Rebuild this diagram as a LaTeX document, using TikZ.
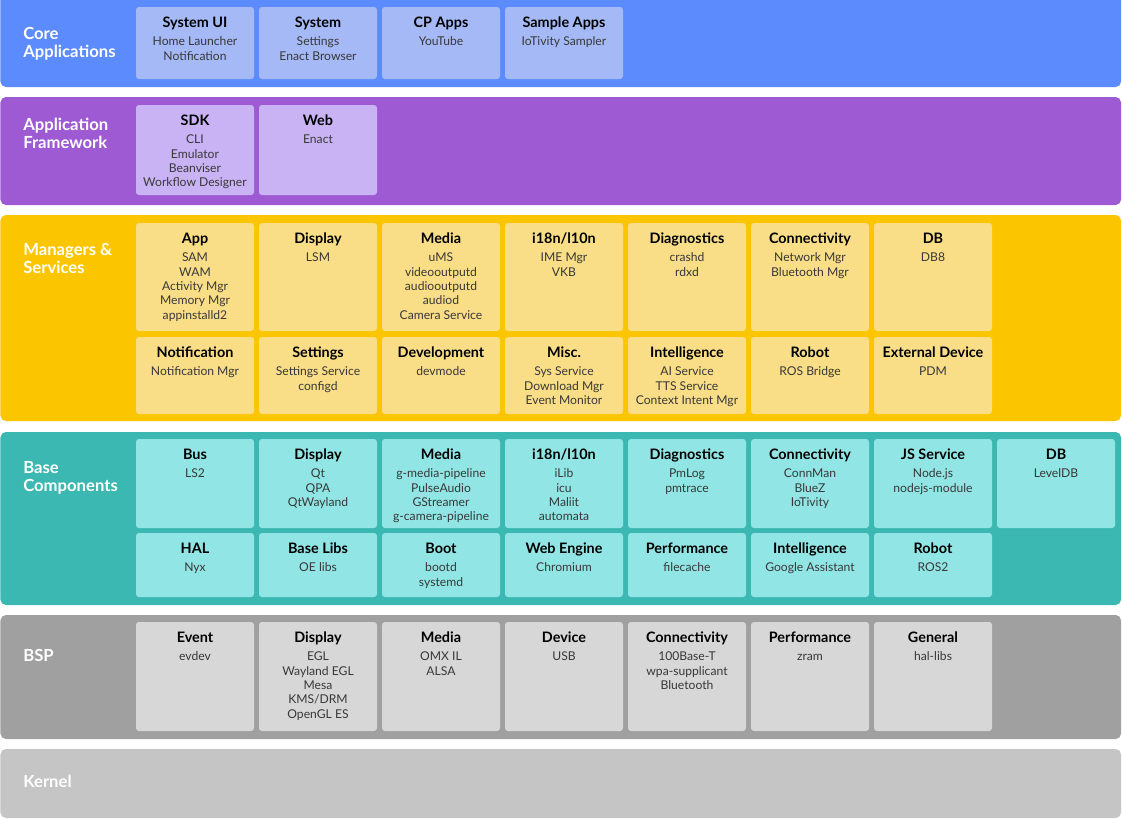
\documentclass[tikz,border=0pt]{standalone}
\usepackage{fontspec}
\setmainfont{Lato}
\definecolor{coreL}{HTML}{5B8BFD}
\definecolor{coreB}{HTML}{A4B9F6}
\definecolor{fwL}{HTML}{9D5AD2}
\definecolor{fwB}{HTML}{C9B3F5}
\definecolor{mgL}{HTML}{FBC500}
\definecolor{mgB}{HTML}{F9DE87}
\definecolor{bcL}{HTML}{3BB8B2}
\definecolor{bcB}{HTML}{92E5E5}
\definecolor{bspL}{HTML}{A0A0A0}
\definecolor{bspB}{HTML}{D7D7D7}
\definecolor{krL}{HTML}{C5C5C5}
\definecolor{itemc}{HTML}{383838}
\newcommand\hd[1]{{\fontsize{10.8}{10.8}\selectfont\bfseries\color{black}#1}}
\newcommand\lb[1]{\begin{tabular}[t]{@{}l@{}}#1\end{tabular}}
\tikzset{
  layerst/.style={rounded corners=4pt},
  boxst/.style={rounded corners=2.2pt, inner sep=0pt, outer sep=0pt, minimum width=88.5pt, anchor=north west},
  txt/.style={inner sep=0pt, outer sep=0pt, anchor=base, text=itemc, font=\fontsize{9.1}{10.75}\selectfont},
  lbl/.style={inner sep=0pt, anchor=base west, text=white, font=\fontsize{12.5}{13.8}\selectfont\bfseries}
}
\newcommand\cbox[7]{%
  \node[boxst, fill=#5, minimum height={#4*0.75pt}] (#1) at ({136+123*#2}, #3) {};
  \node[txt] (#1t) at ({195+123*#2}, {#3+20}) {\begin{tabular}[t]{@{}c@{}}\hd{#6}\\[3.3pt] #7\end{tabular}};
}
\begin{document}
\begin{tikzpicture}[x=0.75pt,y=-0.75pt]
\useasboundingbox (0,0) rectangle (1122,819);
% layers
\fill[coreL, layerst] (0.5,-10) rectangle (1121,87);
\fill[fwL, layerst] (0.5,97) rectangle (1121,205);
\fill[mgL, layerst] (0.5,215) rectangle (1121,421);
\fill[bcL, layerst] (0.5,432) rectangle (1121,605);
\fill[bspL, layerst] (0.5,615) rectangle (1121,739);
\fill[krL, layerst] (0.5,749) rectangle (1121,818);
% labels
\node[lbl] (lcore) at (23,39) {\lb{Core\\Applications}};
\node[lbl] (lfw) at (23,130.5) {\lb{Application\\Framework}};
\node[lbl] (lmg) at (23,255.5) {\lb{Managers \&\\Services}};
\node[lbl] (lbc) at (23,473.5) {\lb{Base\\Components}};
\node[lbl] (lbsp) at (23,661.5) {BSP};
\node[lbl] (lkr) at (23,787.5) {Kernel};
% core
\cbox{c0}{0}{7}{72}{coreB}{System UI}{Home Launcher\\Notification}
\cbox{c1}{1}{7}{72}{coreB}{System}{Settings\\Enact Browser}
\cbox{c2}{2}{7}{72}{coreB}{CP Apps}{YouTube}
\cbox{c3}{3}{7}{72}{coreB}{Sample Apps}{IoTivity Sampler}
% framework
\cbox{f0}{0}{105}{90}{fwB}{SDK}{CLI\\Emulator\\Beanviser\\Workflow Designer}
\cbox{f1}{1}{105}{90}{fwB}{Web}{Enact}
% managers row 1
\cbox{m0}{0}{223}{108}{mgB}{App}{SAM\\WAM\\Activity Mgr\\Memory Mgr\\appinstalld2}
\cbox{m1}{1}{223}{108}{mgB}{Display}{LSM}
\cbox{m2}{2}{223}{108}{mgB}{Media}{uMS\\videooutputd\\audiooutputd\\audiod\\Camera Service}
\cbox{m3}{3}{223}{108}{mgB}{i18n/l10n}{IME Mgr\\VKB}
\cbox{m4}{4}{223}{108}{mgB}{Diagnostics}{crashd\\rdxd}
\cbox{m5}{5}{223}{108}{mgB}{Connectivity}{Network Mgr\\Bluetooth Mgr}
\cbox{m6}{6}{223}{108}{mgB}{DB}{DB8}
% managers row 2
\cbox{n0}{0}{337}{77}{mgB}{Notification}{Notification Mgr}
\cbox{n1}{1}{337}{77}{mgB}{Settings}{Settings Service\\configd}
\cbox{n2}{2}{337}{77}{mgB}{Development}{devmode}
\cbox{n3}{3}{337}{77}{mgB}{Misc.}{Sys Service\\Download Mgr\\Event Monitor}
\cbox{n4}{4}{337}{77}{mgB}{Intelligence}{AI Service\\TTS Service\\Context Intent Mgr}
\cbox{n5}{5}{337}{77}{mgB}{Robot}{ROS Bridge}
\cbox{n6}{6}{337}{77}{mgB}{External Device}{PDM}
% base row 1
\cbox{b0}{0}{439}{89}{bcB}{Bus}{LS2}
\cbox{b1}{1}{439}{89}{bcB}{Display}{Qt\\QPA\\QtWayland}
\cbox{b2}{2}{439}{89}{bcB}{Media}{g-media-pipeline\\PulseAudio\\GStreamer\\g-camera-pipeline}
\cbox{b3}{3}{439}{89}{bcB}{i18n/l10n}{iLib\\icu\\Maliit\\automata}
\cbox{b4}{4}{439}{89}{bcB}{Diagnostics}{PmLog\\pmtrace}
\cbox{b5}{5}{439}{89}{bcB}{Connectivity}{ConnMan\\BlueZ\\IoTivity}
\cbox{b6}{6}{439}{89}{bcB}{JS Service}{Node.js\\nodejs-module}
\cbox{b7}{7}{439}{89}{bcB}{DB}{LevelDB}
% base row 2
\cbox{d0}{0}{533}{64}{bcB}{HAL}{Nyx}
\cbox{d1}{1}{533}{64}{bcB}{Base Libs}{OE libs}
\cbox{d2}{2}{533}{64}{bcB}{Boot}{bootd\\systemd}
\cbox{d3}{3}{533}{64}{bcB}{Web Engine}{Chromium}
\cbox{d4}{4}{533}{64}{bcB}{Performance}{filecache}
\cbox{d5}{5}{533}{64}{bcB}{Intelligence}{Google Assistant}
\cbox{d6}{6}{533}{64}{bcB}{Robot}{ROS2}
% bsp
\cbox{s0}{0}{622}{109}{bspB}{Event}{evdev}
\cbox{s1}{1}{622}{109}{bspB}{Display}{EGL\\Wayland EGL\\Mesa\\KMS/DRM\\OpenGL ES}
\cbox{s2}{2}{622}{109}{bspB}{Media}{OMX IL\\ALSA}
\cbox{s3}{3}{622}{109}{bspB}{Device}{USB}
\cbox{s4}{4}{622}{109}{bspB}{Connectivity}{100Base-T\\wpa-supplicant\\Bluetooth}
\cbox{s5}{5}{622}{109}{bspB}{Performance}{zram}
\cbox{s6}{6}{622}{109}{bspB}{General}{hal-libs}
\end{tikzpicture}
\end{document}
